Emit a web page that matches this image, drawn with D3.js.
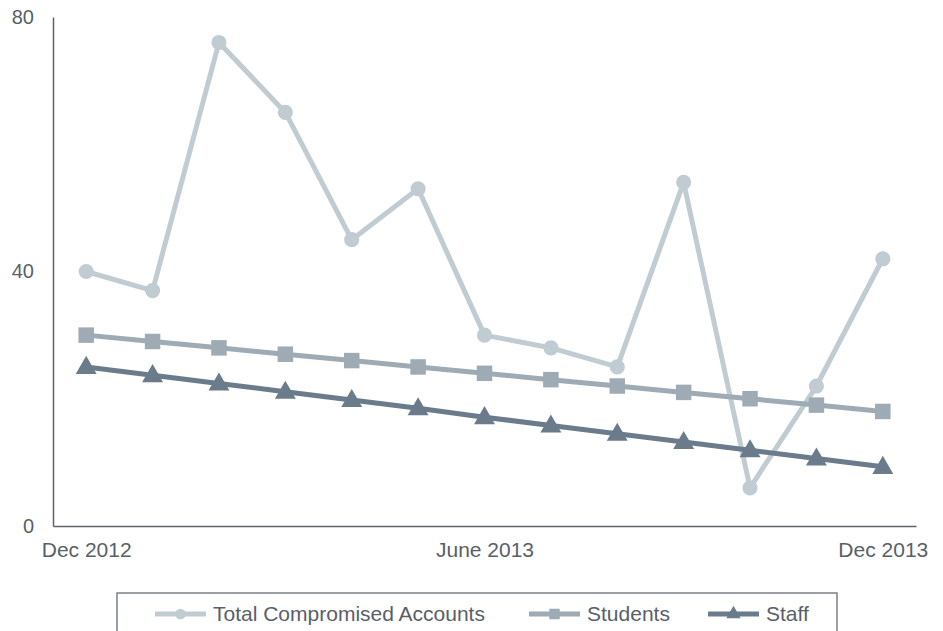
<!DOCTYPE html>
<html>
<head>
<meta charset="utf-8">
<script src="https://cdn.jsdelivr.net/npm/d3@7"></script>
<style>
  html, body { margin: 0; padding: 0; background: #ffffff; }
  svg { display: block; font-family: "Liberation Sans", Arial, sans-serif; }
</style>
</head>
<body>
<svg id="chart" width="943" height="631"></svg>
<script>
// Monthly snapshots, Dec 2012 – Dec 2013
const months = ["Dec 2012", "Jan 2013", "Feb 2013", "Mar 2013", "Apr 2013", "May 2013",
                "June 2013", "Jul 2013", "Aug 2013", "Sep 2013", "Oct 2013", "Nov 2013", "Dec 2013"];
const totalAccounts = [40, 37, 76, 65, 45, 53, 30, 28, 25, 54, 6, 22, 42];
const students = [30, 29, 28, 27, 26, 25, 24, 23, 22, 21, 20, 19, 18];
const staff = [25, 23.7, 22.4, 21.1, 19.8, 18.5, 17.1, 15.8, 14.5, 13.2, 11.9, 10.6, 9.3];
const xTickLabels = ["Dec 2012", "June 2013", "Dec 2013"];
const yTicks = [0, 40, 80];

const seriesNames = ["Total Compromised Accounts", "Students", "Staff"];
const seriesColors = ["#c1ccd2", "#9eabb4", "#6a7c8c"];
const seriesSymbols = [d3.symbolCircle, d3.symbolSquare, d3.symbolTriangle];

const series = [totalAccounts, students, staff].map((values, i) => ({
  name: seriesNames[i], color: seriesColors[i], symbol: seriesSymbols[i],
  points: values.map((v, j) => ({ month: months[j], value: v }))
}));

const svg = d3.select("#chart");
const margin = { top: 17, right: 27, bottom: 105, left: 53 };
const W = 943, H = 631;

const x = d3.scalePoint().domain(months).range([margin.left, W - margin.right]).padding(0.5);
const y = d3.scaleLinear().domain([0, 80]).range([H - margin.bottom, margin.top]);

const textColor = "#595f67";
const axisColor = "#5c636b";

// Axes
const yAxis = svg.append("g")
  .attr("transform", `translate(${margin.left},0)`)
  .call(d3.axisLeft(y).tickValues(yTicks).tickSize(0).tickPadding(19));
yAxis.select(".domain").attr("stroke", axisColor).attr("stroke-width", 1.5);
yAxis.selectAll("text").attr("fill", textColor).attr("font-size", 20)
  .attr("font-family", "Liberation Sans, Arial, sans-serif");

const xAxis = svg.append("g")
  .attr("transform", `translate(0,${H - margin.bottom})`)
  .call(d3.axisBottom(x).tickValues(xTickLabels).tickSize(0).tickPadding(16));
xAxis.select(".domain").attr("stroke", axisColor).attr("stroke-width", 1.5);
xAxis.selectAll("text").attr("fill", textColor).attr("font-size", 21)
  .attr("font-family", "Liberation Sans, Arial, sans-serif");

// Lines and markers
const line = d3.line().x(d => x(d.month)).y(d => y(d.value));
const markerSizes = [180, 240, 190];

series.forEach((s, i) => {
  const g = svg.append("g");
  g.append("path")
    .datum(s.points)
    .attr("fill", "none")
    .attr("stroke", s.color)
    .attr("stroke-width", 5)
    .attr("stroke-linejoin", "round")
    .attr("d", line);
  g.selectAll("path.marker")
    .data(s.points)
    .join("path")
    .attr("class", "marker")
    .attr("transform", d => `translate(${x(d.month)},${y(d.value) + (i === 2 ? 1 : 0)})`)
    .attr("d", d3.symbol().type(s.symbol).size(markerSizes[i]))
    .attr("fill", s.color);
});

// Legend
const legend = svg.append("g");
legend.append("rect")
  .attr("x", 117).attr("y", 593)
  .attr("width", 720).attr("height", 60)
  .attr("fill", "none").attr("stroke", "#7b8189").attr("stroke-width", 1.5);

const legendX = [155, 529, 708];
const legendY = 614;
series.forEach((s, i) => {
  const item = legend.append("g").attr("transform", `translate(${legendX[i]},${legendY})`);
  item.append("line")
    .attr("x1", 0).attr("x2", 51).attr("y1", 0).attr("y2", 0)
    .attr("stroke", s.color).attr("stroke-width", 5);
  item.append("path")
    .attr("transform", "translate(25.5,0)")
    .attr("d", d3.symbol().type(s.symbol).size([90, 110, 90][i]))
    .attr("fill", s.color);
  item.append("text")
    .attr("x", 58).attr("y", 0).attr("dy", "0.35em")
    .attr("fill", textColor).attr("font-size", 21)
    .text(s.name);
});
</script>
</body>
</html>
